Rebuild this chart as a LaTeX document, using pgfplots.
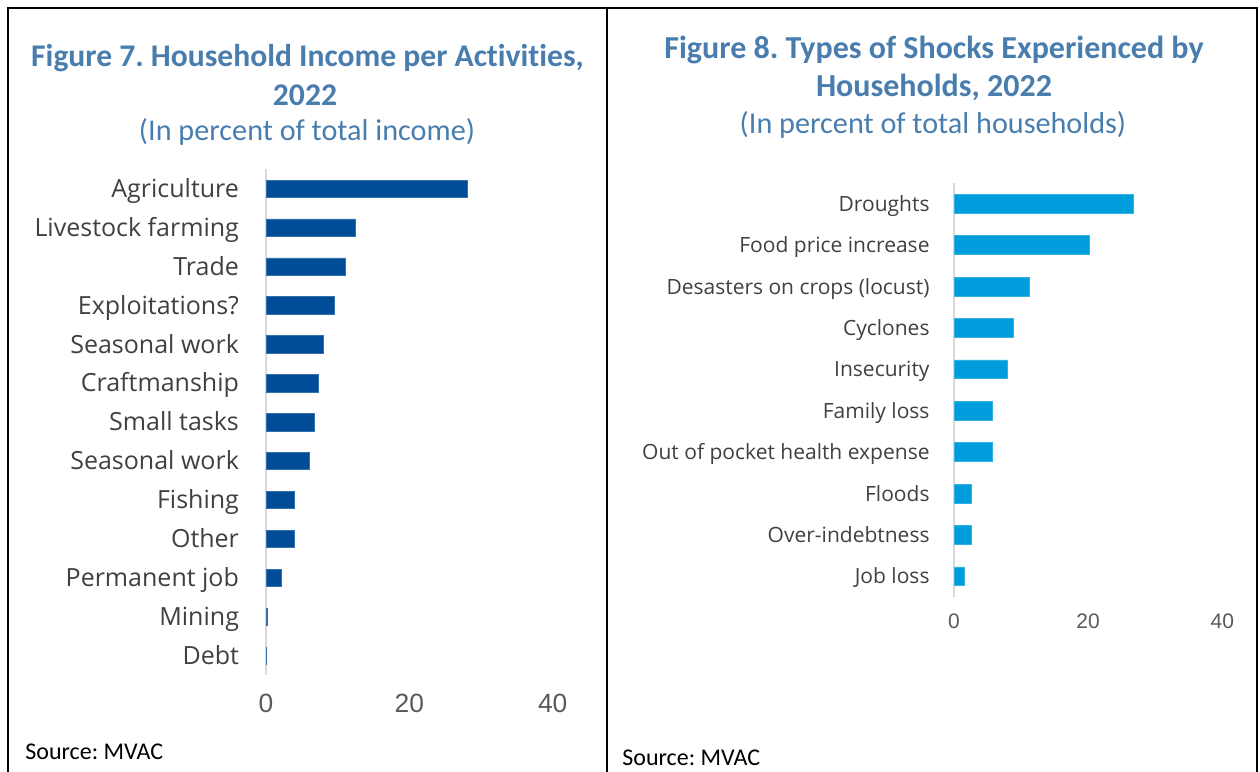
\documentclass[border=0pt]{standalone}
\usepackage{fontspec}
\setmainfont{Carlito}[Ligatures=NoCommon]
\newfontfamily\labelfont{Open Sans}
\newfontfamily\numfont{Liberation Sans}
\usepackage{pgfplots}
\pgfplotsset{compat=1.18}
\definecolor{titleblue}{RGB}{73,125,174}
\definecolor{darkbar}{RGB}{0,76,151}
\definecolor{lightbar}{RGB}{0,157,220}
\definecolor{labgray}{RGB}{64,64,64}
\definecolor{numgray}{RGB}{89,89,89}
\definecolor{axgray}{RGB}{217,217,217}
\frenchspacing
\begin{document}
\begin{tikzpicture}
\path[use as bounding box] (0pt,0pt) rectangle (630pt,386pt);
\draw[line width=1.2pt] (4pt,0pt) -- (4pt,382pt) -- (628.5pt,382pt) -- (628.5pt,0pt);
\draw[line width=1.2pt] (303.5pt,0pt) -- (303.5pt,382pt);
% titles
\node[text=titleblue,font=\bfseries\fontsize{15.8}{15.8}\selectfont] at (153.75pt,357pt) {Figure 7. Household Income per Activities,};
\node[text=titleblue,font=\bfseries\fontsize{15.8}{15.8}\selectfont] at (152.5pt,338.5pt) {2022};
\node[text=titleblue,font=\fontsize{15.1}{15.1}\selectfont] at (153.5pt,320pt) {(In percent of total income)};
\node[text=titleblue,font=\bfseries\fontsize{16}{16}\selectfont] at (467pt,361pt) {Figure 8. Types of Shocks Experienced by};
\node[text=titleblue,font=\bfseries\fontsize{16}{16}\selectfont] at (467pt,342.5pt) {Households, 2022};
\node[text=titleblue,font=\fontsize{15.1}{15.1}\selectfont] at (466.5pt,323.5pt) {(In percent of total households)};
\node[anchor=west,inner sep=0pt,font=\fontsize{12}{12}\selectfont] at (12.5pt,10pt) {Source: MVAC};
\node[anchor=west,inner sep=0pt,font=\fontsize{12}{12}\selectfont] at (311pt,7pt) {Source: MVAC};
% left chart
\begin{axis}[at={(133pt,48.4pt)}, anchor=south west, scale only axis,
  width=143.35pt, height=253pt, xmin=0, xmax=40, ymin=-0.5, ymax=12.5,
  y dir=reverse, xbar, bar width=8.65pt,
  axis lines=left, axis line style={-}, x axis line style={draw=none},
  y axis line style={draw=axgray, line width=1pt},
  /pgf/number format/assume math mode=true,
  major tick length=0pt, xtick={0,20,40}, ytick={0,...,12},
  yticklabels={Agriculture, Livestock farming, Trade, Exploitations?, Seasonal work, Craftmanship, Small tasks, Seasonal work, Fishing, Other, Permanent job, Mining, Debt},
  xticklabel style={font=\numfont\fontsize{13.2}{13.2}\selectfont, text=numgray, yshift=-5.8pt},
  yticklabel style={font=\labelfont\fontsize{12.5}{12.5}\selectfont, text=labgray, xshift=-10pt, yshift=-2pt, text height=0.72em, text depth=0.25em},
  ]
\addplot[fill=darkbar, draw=darkbar!80!white, line width=0.3pt] coordinates {
(28.1,0) (12.45,1) (11.0,2) (9.5,3) (7.95,4) (7.25,5) (6.75,6) (6.05,7) (4.0,8) (4.0,9) (2.2,10) (0.25,11) (0.08,12)};
\end{axis}
% right chart
\begin{axis}[at={(477pt,87.5pt)}, anchor=south west, scale only axis,
  width=134.15pt, height=207pt, xmin=0, xmax=40, ymin=-0.5, ymax=9.5,
  y dir=reverse, xbar, bar width=9.35pt,
  axis lines=left, axis line style={-}, x axis line style={draw=none},
  y axis line style={draw=axgray, line width=1pt},
  /pgf/number format/assume math mode=true,
  major tick length=0pt, xtick={0,20,40}, ytick={0,...,9},
  yticklabels={Droughts, Food price increase, Desasters on crops (locust), Cyclones, Insecurity, Family loss, Out of pocket health expense, Floods, Over-indebtness, Job loss},
  xticklabel style={font=\numfont\fontsize{10.5}{10.5}\selectfont, text=numgray, yshift=-4.8pt},
  yticklabel style={font=\labelfont\fontsize{10.5}{10.5}\selectfont, text=labgray, xshift=-8.7pt, yshift=-1.4pt, text height=0.72em, text depth=0.25em},
  ]
\addplot[fill=lightbar, draw=lightbar!80!white, line width=0.3pt] coordinates {
(26.7,0) (20.1,1) (11.3,2) (8.8,3) (7.9,4) (5.65,5) (5.65,6) (2.6,7) (2.6,8) (1.6,9)};
\end{axis}
\end{tikzpicture}
\end{document}
